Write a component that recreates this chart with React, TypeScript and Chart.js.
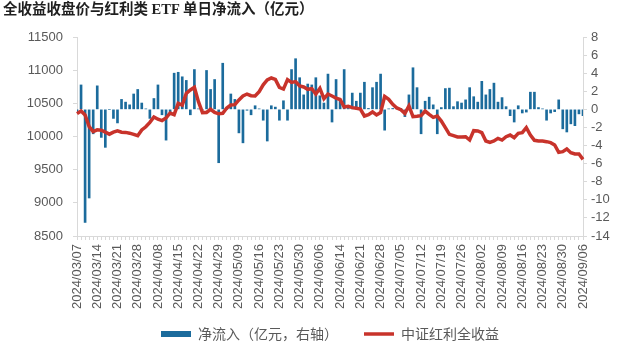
import React, { useEffect, useRef } from 'react';
import { Chart, registerables } from 'chart.js';

Chart.register(...registerables);

const title = '全收益收盘价与红利类 ETF 单日净流入（亿元）';
const barLabel = '净流入（亿元，右轴）';
const lineLabel = '中证红利全收益';

const dates = [
  '2024/03/07', '2024/03/08', '2024/03/11', '2024/03/12', '2024/03/13', '2024/03/14', '2024/03/15', '2024/03/18', '2024/03/19', '2024/03/20',
  '2024/03/21', '2024/03/22', '2024/03/25', '2024/03/26', '2024/03/27', '2024/03/28', '2024/03/29', '2024/04/01', '2024/04/02', '2024/04/03',
  '2024/04/08', '2024/04/09', '2024/04/10', '2024/04/11', '2024/04/12', '2024/04/15', '2024/04/16', '2024/04/17', '2024/04/18', '2024/04/19',
  '2024/04/22', '2024/04/23', '2024/04/24', '2024/04/25', '2024/04/26', '2024/04/29', '2024/04/30', '2024/05/06', '2024/05/07', '2024/05/08',
  '2024/05/09', '2024/05/10', '2024/05/13', '2024/05/14', '2024/05/15', '2024/05/16', '2024/05/17', '2024/05/20', '2024/05/21', '2024/05/22',
  '2024/05/23', '2024/05/24', '2024/05/27', '2024/05/28', '2024/05/29', '2024/05/30', '2024/05/31', '2024/06/03', '2024/06/04', '2024/06/05',
  '2024/06/06', '2024/06/07', '2024/06/11', '2024/06/12', '2024/06/13', '2024/06/14', '2024/06/17', '2024/06/18', '2024/06/19', '2024/06/20',
  '2024/06/21', '2024/06/24', '2024/06/25', '2024/06/26', '2024/06/27', '2024/06/28', '2024/07/01', '2024/07/02', '2024/07/03', '2024/07/04',
  '2024/07/05', '2024/07/08', '2024/07/09', '2024/07/10', '2024/07/11', '2024/07/12', '2024/07/15', '2024/07/16', '2024/07/17', '2024/07/18',
  '2024/07/19', '2024/07/22', '2024/07/23', '2024/07/24', '2024/07/25', '2024/07/26', '2024/07/29', '2024/07/30', '2024/07/31', '2024/08/01',
  '2024/08/02', '2024/08/05', '2024/08/06', '2024/08/07', '2024/08/08', '2024/08/09', '2024/08/12', '2024/08/13', '2024/08/14', '2024/08/15',
  '2024/08/16', '2024/08/19', '2024/08/20', '2024/08/21', '2024/08/22', '2024/08/23', '2024/08/26', '2024/08/27', '2024/08/28', '2024/08/29',
  '2024/08/30', '2024/09/02', '2024/09/03', '2024/09/04', '2024/09/05', '2024/09/06',
];

const netInflow = [
  -0.4, 2.7, -12.5, -9.8, -2.7, 2.6, -3.1, -4.2, 0.0, -1.0,
  -1.5, 1.1, 0.8, 0.5, 1.7, 2.2, 0.7, 0.05, -1.0, 1.2,
  2.7, -0.6, -3.4, -0.6, 4.0, 4.1, 3.6, 3.2, -0.6, 4.4,
  0.05, -0.05, 4.3, 2.2, 3.3, -5.9, 5.1, 0.0, 1.7, 1.1,
  -2.6, -3.7, -0.1, -0.6, 0.4, 0.05, -1.2, -3.5, 0.4, 0.25,
  -1.2, 0.95, -1.2, 4.4, 5.6, 3.5, 1.6, 2.8, 2.7, 3.5,
  1.5, 0.7, 3.9, -1.4, 3.3, 0.9, 4.4, 0.1, 1.8, 0.9,
  1.8, 3.0, 0.1, 2.4, 3.0, 3.9, -2.3, 0.05, 0.1, 0.2,
  0.1, -0.8, 1.6, 4.6, 2.4, -2.7, 0.9, 1.35, 0.5, -2.7,
  0.2, 2.3, 2.35, 0.3, 0.85, 0.7, 1.05, 2.4, 1.4, 0.8,
  3.1, 1.6, 2.2, 2.9, 0.8, 1.3, 0.3, -0.7, -1.4, 0.4,
  -0.4, -0.3, 1.9, 1.9, 0.2, 0.05, -1.2, -0.4, -0.25, 1.05,
  -2.15, -2.5, -1.6, -1.8, -0.5, -0.7,
];

const totalReturn = [
  10345, 10385, 10325, 10150, 10075, 10100, 10095, 10065, 10035, 10065,
  10085, 10065, 10062, 10050, 10032, 10012, 10098, 10147, 10213, 10295,
  10260, 10240, 10279, 10354, 10329, 10500, 10474, 10651, 10701, 10741,
  10525, 10360, 10362, 10410, 10364, 10342, 10349, 10430, 10474, 10480,
  10552, 10610, 10640, 10615, 10610, 10676, 10780, 10852, 10882, 10860,
  10740, 10715, 10857, 10815, 10827, 10761, 10746, 10711, 10720, 10640,
  10726, 10570, 10640, 10610, 10580, 10558, 10445, 10455, 10435, 10425,
  10414, 10309, 10330, 10370, 10324, 10360, 10605, 10560, 10485, 10430,
  10405, 10349, 10460, 10300, 10305, 10314, 10384, 10334, 10289, 10309,
  10233, 10133, 10032, 10012, 9992, 9992, 9997, 9947, 10088, 10083,
  10057, 9932, 9912, 9932, 9972, 9947, 9997, 10022, 9982, 10047,
  10057, 10133, 10022, 9942, 9932, 9932, 9922, 9907, 9872, 9761,
  9771, 9811, 9756, 9736, 9736, 9656,
];

const BLUE = '#1b6b9c';
const RED = '#c8332b';
const AXIS_GRAY = '#d9d9d9';
const TEXT_GRAY = '#595959';

// lets the rotated date labels run below the x-scale box (into the legend band)
const extendLabelClip = {
  id: 'extendLabelClip',
  afterLayout(chart: any) {
    const x = chart.scales.x;
    if (x) x.bottom = x.bottom + 20;
  },
};

export default function App() {
  const ref = useRef<HTMLCanvasElement>(null);

  useEffect(() => {
    if (!ref.current) return;
    Chart.defaults.font.family = "'Liberation Sans', Arial, sans-serif";
    const chart = new Chart(ref.current, {
      type: 'bar',
      data: {
        labels: dates,
        datasets: [
          {
            type: 'line',
            label: lineLabel,
            data: totalReturn,
            yAxisID: 'y',
            borderColor: RED,
            backgroundColor: RED,
            borderWidth: 3.5,
            pointRadius: 0,
            tension: 0,
            order: 0,
          } as any,
          {
            type: 'bar',
            label: barLabel,
            data: netInflow,
            yAxisID: 'y1',
            backgroundColor: BLUE,
            barThickness: 2,
            order: 1,
          },
        ],
      },
      plugins: [extendLabelClip],
      options: {
        animation: false,
        responsive: false,
        devicePixelRatio: 1,
        layout: { padding: { top: 37, left: 0, right: 0, bottom: 0 } },
        plugins: {
          tooltip: { enabled: false },
          legend: {
            position: 'bottom',
            fullSize: false,
            maxHeight: 50,
            labels: {
              usePointStyle: true,
              pointStyleWidth: 30,
              boxHeight: 6,
              padding: 26,
              color: TEXT_GRAY,
              font: { size: 14, family: "'Noto Sans CJK SC', sans-serif" },
              generateLabels: () => [
                {
                  text: barLabel,
                  fillStyle: BLUE,
                  strokeStyle: BLUE,
                  lineWidth: 0,
                  pointStyle: 'rect',
                  hidden: false,
                  datasetIndex: 1,
                  fontColor: TEXT_GRAY,
                },
                {
                  text: lineLabel,
                  fillStyle: RED,
                  strokeStyle: RED,
                  lineWidth: 3.5,
                  pointStyle: 'line',
                  hidden: false,
                  datasetIndex: 0,
                  fontColor: TEXT_GRAY,
                },
              ] as any,
            },
          },
        },
        scales: {
          x: {
            type: 'category',
            offset: false,
            grid: {
              display: true,
              offset: false,
              drawOnChartArea: false,
              drawTicks: true,
              tickLength: 4,
              color: AXIS_GRAY,
            },
            border: { display: true, color: AXIS_GRAY },
            ticks: {
              autoSkip: false,
              maxRotation: 90,
              minRotation: 90,
              padding: 4,
              color: TEXT_GRAY,
              font: { size: 13 },
              callback: (_v: any, idx: number) => (idx % 5 === 0 ? dates[idx] : ''),
            },
            afterFit: (s: any) => {
              s.height = 65;
            },
          },
          y: {
            position: 'left',
            min: 8500,
            max: 11500,
            grid: {
              display: true,
              drawOnChartArea: false,
              drawTicks: true,
              tickLength: 4,
              color: AXIS_GRAY,
            },
            border: { display: true, color: AXIS_GRAY },
            ticks: {
              stepSize: 500,
              autoSkip: false,
              padding: 10,
              color: TEXT_GRAY,
              font: { size: 13 },
              callback: (v: any) => String(v),
            },
            afterFit: (s: any) => {
              s.width = 77;
            },
          },
          y1: {
            position: 'right',
            min: -14,
            max: 8,
            grid: {
              display: true,
              drawOnChartArea: false,
              drawTicks: true,
              tickLength: 4,
              color: AXIS_GRAY,
            },
            border: { display: true, color: AXIS_GRAY },
            ticks: {
              stepSize: 2,
              autoSkip: false,
              padding: 4,
              color: TEXT_GRAY,
              font: { size: 13 },
              callback: (v: any) => String(v),
            },
            afterFit: (s: any) => {
              s.width = 44;
            },
          },
        },
      },
    });
    return () => chart.destroy();
  }, []);

  return (
    <div
      style={{
        position: 'fixed',
        left: 0,
        top: 0,
        width: 627,
        height: 351,
        background: '#ffffff',
        overflow: 'hidden',
      }}
    >
      <canvas
        ref={ref}
        width={627}
        height={351}
        style={{ position: 'absolute', left: 0, top: 0, width: 627, height: 351 }}
      />
      <div
        style={{
          position: 'absolute',
          left: 3,
          top: 0,
          lineHeight: '19px',
          fontSize: 14.5,
          fontWeight: 'bold',
          color: '#1f1f1f',
          fontFamily: "'Liberation Serif', 'Noto Sans CJK SC', serif",
          whiteSpace: 'nowrap',
        }}
      >
        {title}
      </div>
    </div>
  );
}
